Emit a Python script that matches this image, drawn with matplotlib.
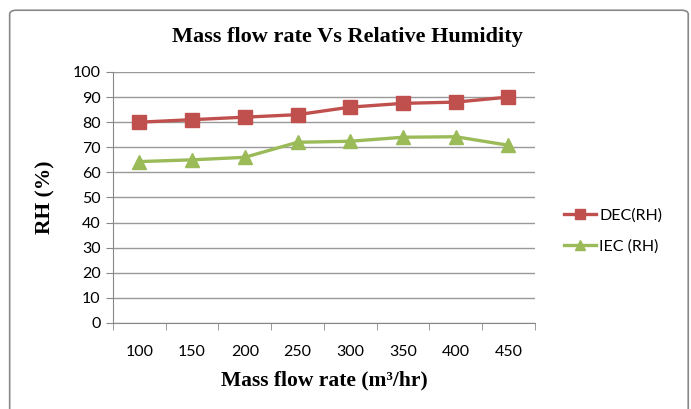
import numpy as np
import matplotlib
matplotlib.use('Agg')
import matplotlib.pyplot as plt
from matplotlib.patches import FancyBboxPatch

flow = ['100', '150', '200', '250', '300', '350', '400', '450']
dec_rh = [80, 81, 82, 83, 86, 87.5, 88, 90]
iec_rh = [64.3, 65, 66, 72, 72.4, 74, 74.2, 70.8]

fig = plt.figure(figsize=(6.91, 4.09), dpi=100)
ax = fig.add_axes([0.1635, 0.2103, 0.6105, 0.6137])

# outer chart border
border = FancyBboxPatch((0.014, -0.02), 0.982, 0.995, boxstyle='round,pad=0,rounding_size=0.01',
                        transform=fig.transFigure, fill=False, edgecolor='#888888', linewidth=1.2)
fig.patches.append(border)

x = np.arange(len(flow))
ax.plot(x, dec_rh, color='#C0504D', marker='s', markersize=10, linewidth=2.4, label='DEC(RH)')
ax.plot(x, iec_rh, color='#9BBB59', marker='^', markersize=10, linewidth=2.4, label='IEC (RH)')

ax.set_xlim(-0.5, len(flow) - 0.5)
ax.set_ylim(0, 100)
ax.set_yticks(range(0, 101, 10))
ax.set_xticks(x)
ax.set_xticklabels(flow)
ax.set_xticks(np.arange(-0.5, len(flow), 1), minor=True)
ax.tick_params(axis='x', which='major', length=0, pad=16, labelsize=11.5)
ax.tick_params(axis='x', which='minor', length=5, color='#888888')
ax.tick_params(axis='y', length=5, color='#888888', labelsize=11.5, pad=4)
for lab in ax.get_xticklabels() + ax.get_yticklabels():
    lab.set_fontfamily('Lato')

ax.grid(axis='y', color='#999999', linewidth=1)
ax.set_axisbelow(True)
for s in ['top', 'right']:
    ax.spines[s].set_visible(False)
ax.spines['left'].set_color('#888888')
ax.spines['bottom'].set_color('#888888')

ax.set_xlabel('Mass flow rate (m\u00b3/hr)', fontfamily='Liberation Serif', fontweight='bold',
              fontsize=15.5, labelpad=8)
ax.set_ylabel('RH (%)', fontfamily='Liberation Serif', fontweight='bold', fontsize=15.5, labelpad=12)
fig.text(0.503, 0.91, 'Mass flow rate Vs Relative Humidity', ha='center', va='center',
         fontfamily='Liberation Serif', fontweight='bold', fontsize=16)

leg = ax.legend(loc='center left', bbox_to_anchor=(1.035, 0.366), frameon=False,
                prop={'family': 'Lato', 'size': 11.5}, handlelength=2.0, handletextpad=0.2,
                labelspacing=1.05, markerscale=0.7)

fig.savefig('out.png', dpi=100)
